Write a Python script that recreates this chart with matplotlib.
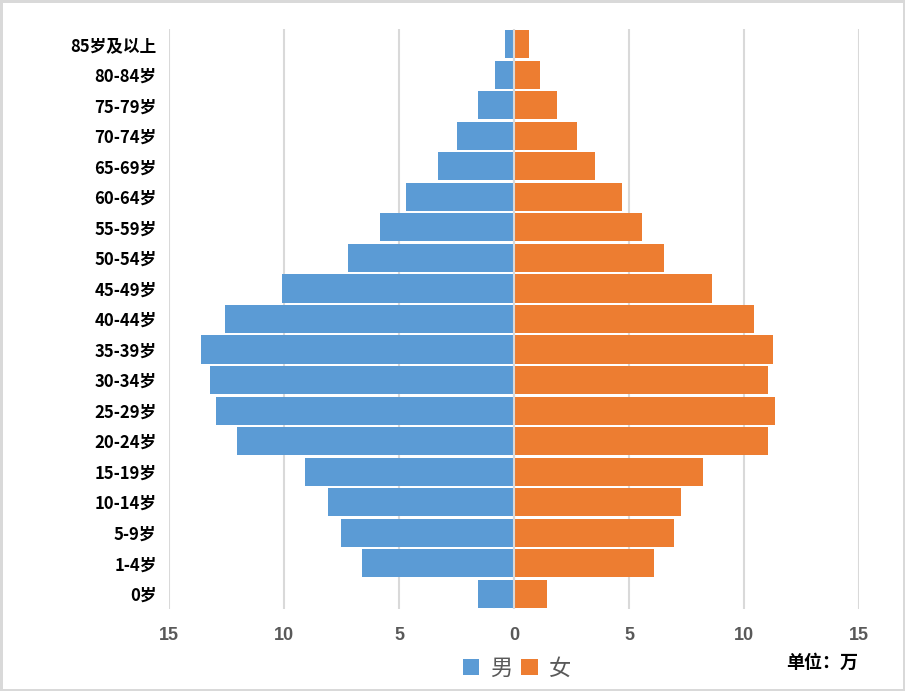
import numpy as np
import matplotlib.pyplot as plt

plt.rcParams['font.family'] = ['Noto Sans CJK SC', 'DejaVu Sans']

ages = ['0岁', '1-4岁', '5-9岁', '10-14岁', '15-19岁', '20-24岁', '25-29岁',
        '30-34岁', '35-39岁', '40-44岁', '45-49岁', '50-54岁', '55-59岁',
        '60-64岁', '65-69岁', '70-74岁', '75-79岁', '80-84岁', '85岁及以上']
male = [1.57, 6.6, 7.52, 8.09, 9.09, 12.04, 12.96, 13.2, 13.6, 12.57, 10.1,
        7.2, 5.83, 4.7, 3.3, 2.48, 1.57, 0.83, 0.39]
female = [1.43, 6.09, 6.96, 7.26, 8.22, 11.04, 11.35, 11.04, 11.26, 10.43,
          8.6, 6.52, 5.57, 4.7, 3.52, 2.74, 1.87, 1.13, 0.65]
xticks = [-15, -10, -5, 0, 5, 10, 15]

blue = '#5B9BD5'
orange = '#ED7D31'

fig = plt.figure(figsize=(9.05, 6.91), dpi=100, edgecolor='#d9d9d9', linewidth=2.5)
ax = fig.add_axes([169/905, 1-609/691, 690/905, 580/691])

y = np.arange(len(ages))
ax.barh(y, -np.array(male), height=0.92, color=blue, label='男', zorder=2)
ax.barh(y, female, height=0.92, color=orange, label='女', zorder=2)
ax.axvline(0, color='#d9d9d9', lw=1.5, zorder=3)

ax.set_xlim(-15, 15)
ax.set_ylim(-0.5, len(ages) - 0.5)
ax.set_xticks(xticks)
ax.set_xticklabels([str(abs(v)) for v in xticks], fontfamily='Liberation Sans',
                   fontweight='bold', fontsize=13, color='#595959')
ax.set_yticks(y)
ax.set_yticklabels(ages, fontweight='bold', fontsize=12, color='black')
ax.tick_params(axis='both', length=0)
ax.tick_params(axis='x', pad=13)
ax.tick_params(axis='y', pad=9)
ax.grid(axis='x', color='#d9d9d9', lw=1.5, zorder=0)
ax.set_axisbelow(True)
for s in ax.spines.values():
    s.set_visible(False)

leg = fig.legend(loc='center', bbox_to_anchor=(517/905, 1-668/691), ncol=2,
                 frameon=False, handlelength=0.75, handleheight=0.75,
                 handletextpad=0.5, columnspacing=0.4,
                 prop={'family': 'Noto Sans CJK SC', 'size': 16, 'weight': 'light'})
for t in leg.get_texts():
    t.set_color('#595959')

fig.text(858/905, 1-662/691, '单位：万', ha='right', va='center',
         fontsize=13, fontweight='bold', color='black')

fig.savefig('out.png', dpi=100, edgecolor=fig.get_edgecolor())
